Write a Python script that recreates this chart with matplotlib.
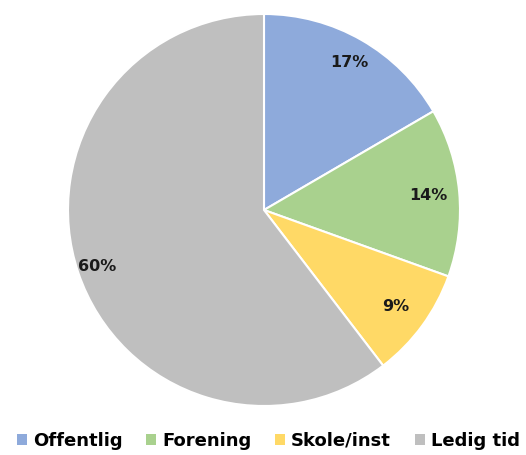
import matplotlib.pyplot as plt
from matplotlib.patches import Patch

labels = ['Offentlig', 'Forening', 'Skole/inst', 'Ledig tid']
values = [16.6, 13.9, 9.1, 60.4]
colors = ['#8eaadb', '#a9d18e', '#ffd966', '#bfbfbf']
label_dist = [0.87, 0.84, 0.83, 0.90]

plt.rcParams['font.family'] = ['DejaVu Sans']

fig = plt.figure(figsize=(5.26, 4.55), dpi=100)
ax = fig.add_axes([68 / 526, 49 / 455, 392 / 526, 392 / 455])

wedges, texts, autotexts = ax.pie(
    values, colors=colors, startangle=90, counterclock=False,
    autopct='%.0f%%', pctdistance=0.85,
    wedgeprops=dict(edgecolor='white', linewidth=1.5),
    textprops=dict(fontsize=11.5, fontweight='bold', color='#1a1a1a'),
)
for t, d in zip(autotexts, label_dist):
    x, y = t.get_position()
    t.set_position((x / 0.85 * d, y / 0.85 * d))

ax.set_xlim(-1, 1)
ax.set_ylim(-1, 1)
ax.set_aspect('equal')

handles = [Patch(facecolor=c, edgecolor='none') for c in colors]
fig.legend(handles, labels, loc='lower center', bbox_to_anchor=(0.51, -0.024),
           ncol=4, frameon=False, handlelength=0.55, handleheight=0.55,
           handletextpad=0.35, columnspacing=1.3,
           prop=dict(size=13, weight='bold'))

fig.savefig('out.png', dpi=100)
